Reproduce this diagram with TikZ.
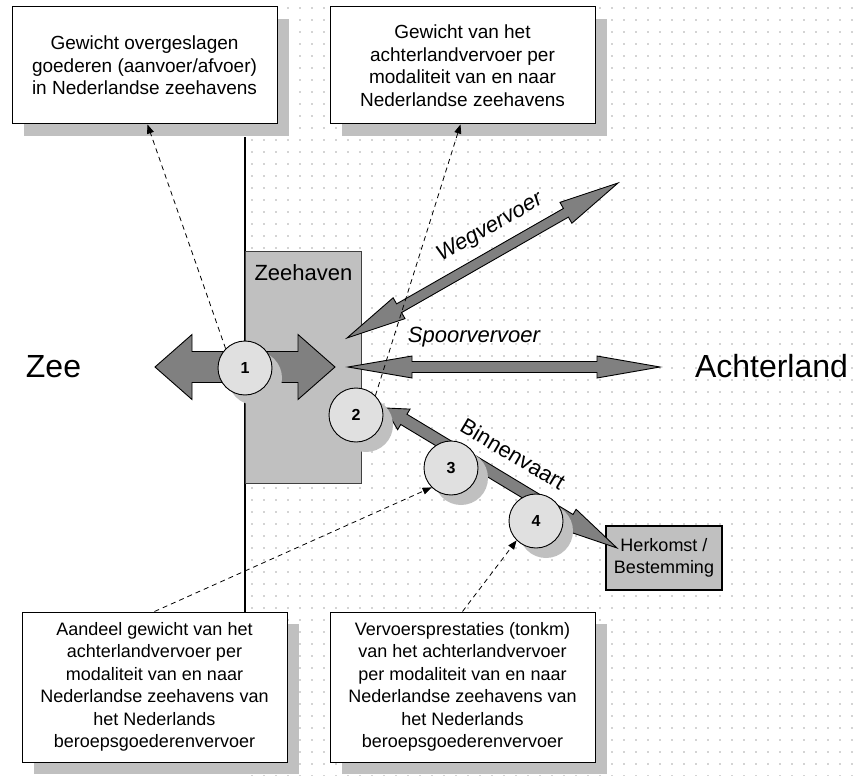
\documentclass[tikz,border=0pt]{standalone}
\usepackage{fontspec}
\setmainfont{Liberation Sans}
\usepackage{xcolor}
\usepackage{tikz}
\usetikzlibrary{arrows.meta, calc, shadows, patterns.meta}
\definecolor{arrowgray}{HTML}{808080}
\definecolor{shadowgray}{HTML}{C0C0C0}
\definecolor{discgray}{HTML}{E0E0E0}
\definecolor{dotgray}{HTML}{A8A8A8}

\newcommand{\fatarrow}[7]{%
  \draw[#7] (#1)
    -- ($(#1)!#5!(#2)!#4!90:(#2)$) -- ($(#1)!#5!(#2)!#3!90:(#2)$)
    -- ($(#2)!#6!(#1)!#3!-90:(#1)$) -- ($(#2)!#6!(#1)!#4!-90:(#1)$)
    -- (#2)
    -- ($(#2)!#6!(#1)!#4!90:(#1)$) -- ($(#2)!#6!(#1)!#3!90:(#1)$)
    -- ($(#1)!#5!(#2)!#3!-90:(#2)$) -- ($(#1)!#5!(#2)!#4!-90:(#2)$)
    -- cycle;}

\begin{document}
\begin{tikzpicture}[
    x=1pt, y=-1pt,
    infobox/.style={draw, line width=1pt, fill=white, align=center, minimum width=265pt, minimum height=117pt,
      font=\fontsize{18}{22.5}\selectfont, general shadow={fill=shadowgray, shadow xshift=12pt, shadow yshift=-12pt}},
    station/.style={circle, draw, line width=0.9pt, fill=discgray, minimum size=54pt, inner sep=0pt,
      font=\fontsize{16}{16}\selectfont\bfseries, general shadow={fill=shadowgray, shadow xshift=10pt, shadow yshift=-10pt}},
    haven/.style={draw=black!75, line width=0.8pt, fill=shadowgray},
    region/.style={font=\fontsize{32}{32}\selectfont, anchor=base},
    mode/.style={font=\fontsize{22}{22}\selectfont\itshape},
    flow/.style={draw, line width=0.9pt, fill=arrowgray, line join=miter},
    pointer/.style={dash pattern=on 5pt off 4pt, line width=0.8pt, -{Triangle[length=9pt, width=7pt]}}
]
\useasboundingbox (0,0) rectangle (855,776);
\fill[pattern={Dots[radius=0.8pt, distance=12pt]}, pattern color=dotgray] (247,0) rectangle (855,776);

\coordinate (coasttop) at (245,137);
\coordinate (coastbottom) at (245,612);
\draw[line width=1.5pt] (coasttop) -- (coastbottom);

\node[infobox, font=\fontsize{19}{22.5}\selectfont] (gewicht) at (144.5,65.5) {Gewicht overgeslagen\\goederen (aanvoer/afvoer)\\in Nederlandse zeehavens};
\node[infobox, font=\fontsize{19}{22.5}\selectfont] (modaliteit) at (462.5,65.5) {Gewicht van het\\achterlandvervoer per\\modaliteit van en naar\\Nederlandse zeehavens};
\node[infobox, minimum height=150pt] (aandeel) at (154.5,687) {Aandeel gewicht van het\\achterlandvervoer per\\modaliteit van en naar\\Nederlandse zeehavens van\\het Nederlands\\beroepsgoederenvervoer};
\node[infobox, minimum height=150pt] (prestatie) at (462.5,687) {Vervoersprestaties (tonkm)\\van het achterlandvervoer\\per modaliteit van en naar\\Nederlandse zeehavens van\\het Nederlands\\beroepsgoederenvervoer};

\node[haven, minimum width=116pt, minimum height=232pt] (zeehaven) at (303,367) {};
\node[font=\fontsize{22}{22}\selectfont, anchor=base west] (havenlabel) at (251,280) {Zeehaven};
\node[haven, draw=black, line width=1.2pt, align=center, minimum width=116pt, minimum height=64pt,
  font=\fontsize{18}{22}\selectfont] (herkomst) at (664,558) {Herkomst /\\Bestemming};

\node[region] (zee) at (53.5,377) {Zee};
\node[region] (achterland) at (771.5,377) {Achterland};

\coordinate (zeetip) at (155,367);
\coordinate (haventip) at (335,367);
\coordinate (wegA) at (347,338);
\coordinate (wegB) at (618,183);
\coordinate (spoorA) at (348,367);
\coordinate (spoorB) at (660,367);
\coordinate (vaartA) at (385,408);
\coordinate (vaartB) at (617,548);

\fatarrow{wegA}{wegB}{5pt}{12pt}{60pt}{60pt}{flow}
\fatarrow{spoorA}{spoorB}{5.5pt}{11pt}{64pt}{63pt}{flow}
\fatarrow{vaartA}{vaartB}{6pt}{12pt}{22pt}{55pt}{flow}
\fatarrow{zeetip}{haventip}{15.5pt}{32.5pt}{37pt}{37pt}{flow}

\node[mode, rotate=29.8] (weglabel) at (490,228) {Wegvervoer};
\node[mode] (spoorlabel) at (474,337) {Spoorvervoer};
\node[font=\fontsize{22}{22}\selectfont, rotate=-30.7] (vaartlabel) at (513,454) {Binnenvaart};

\node[station] (c1) at (245,368) {1};
\node[station] (c2) at (356,415) {2};
\node[station] (c3) at (451,468) {3};
\node[station] (c4) at (536,521) {4};

\draw[pointer] (c1.135) -- ([xshift=3pt]gewicht.south);
\draw[pointer] (c2.45) -- ([xshift=-2pt]modaliteit.south);
\draw[pointer] (aandeel.north) -- (c3.225);
\draw[pointer] (prestatie.north) -- (c4.225);
\end{tikzpicture}
\end{document}
